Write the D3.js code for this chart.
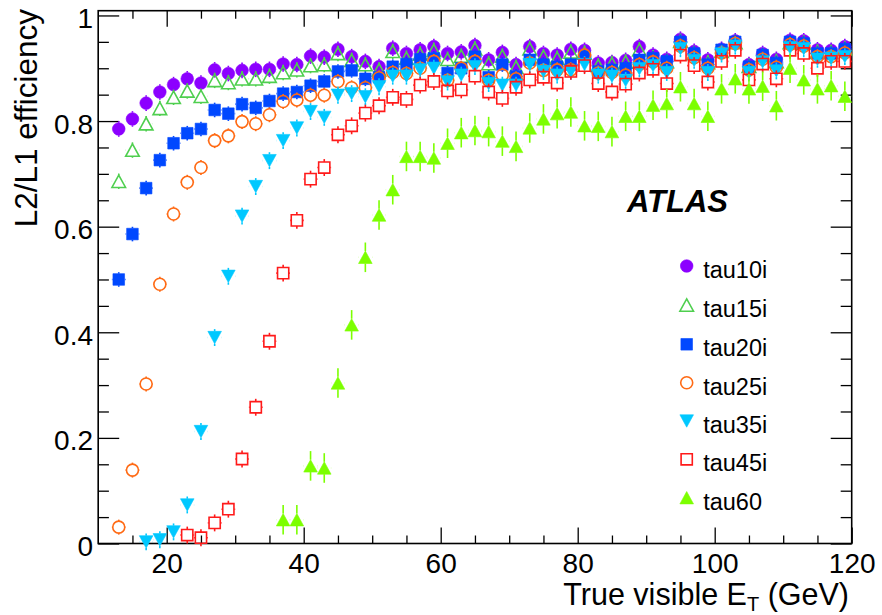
<!DOCTYPE html>
<html><head><meta charset="utf-8">
<script src="https://cdn.jsdelivr.net/npm/d3@7/dist/d3.min.js"></script>
<style>body{margin:0;background:#fff}svg{display:block}</style>
</head><body><svg id="c" width="882" height="615"></svg>
<script>
// ---- data ----
const binCenters = [13,15,17,19,21,23,25,27,29,31,33,35,37,39,41,43,45,47,49,51,53,55,57,59,61,63,65,67,69,71,73,75,77,79,81,83,85,87,89,91,93,95,97,99,101,103,105,107,109,111,113,115,117,119];
const tau10i = [0.785,0.804,0.834,0.855,0.869,0.880,0.872,0.897,0.890,0.896,0.898,0.898,0.908,0.907,0.923,0.921,0.936,
  0.922,0.913,0.903,0.938,0.928,0.935,0.941,0.928,0.931,0.943,0.916,0.930,0.907,0.941,0.928,0.925,0.936,0.934,0.910,
  0.911,0.915,0.941,0.925,0.917,0.955,0.932,0.916,0.936,0.952,0.907,0.928,0.917,0.953,0.952,0.935,0.934,0.941];
const tau15i = [0.686,0.745,0.795,0.824,0.845,0.857,0.847,0.877,0.873,0.880,0.880,0.885,0.892,0.897,0.905,0.907,0.928,
  0.915,0.907,0.897,0.932,0.919,0.927,0.934,0.917,0.923,0.937,0.909,0.923,0.902,0.937,0.922,0.919,0.931,0.929,0.905,
  0.909,0.912,0.935,0.920,0.913,0.951,0.928,0.911,0.932,0.949,0.904,0.924,0.913,0.949,0.948,0.931,0.930,0.937];
const tau20i = [0.500,0.586,0.673,0.726,0.758,0.777,0.785,0.821,0.814,0.832,0.825,0.838,0.852,0.855,0.867,0.875,0.894,
  0.896,0.880,0.883,0.903,0.908,0.917,0.919,0.891,0.900,0.922,0.883,0.907,0.885,0.916,0.907,0.903,0.907,0.922,0.894,
  0.897,0.900,0.916,0.919,0.913,0.950,0.928,0.907,0.935,0.950,0.903,0.925,0.910,0.950,0.947,0.928,0.928,0.936];
const tau25i = [0.031,0.139,0.302,0.491,0.624,0.684,0.712,0.763,0.772,0.799,0.795,0.812,0.837,0.840,0.849,0.849,0.875,
  0.863,0.863,0.882,0.892,0.890,0.900,0.913,0.877,0.900,0.913,0.877,0.887,0.880,0.910,0.896,0.897,0.897,0.925,0.891,
  0.892,0.887,0.907,0.912,0.900,0.942,0.920,0.900,0.929,0.947,0.897,0.917,0.902,0.945,0.942,0.922,0.922,0.929];
const tau35i = [null,null,0.003,0.007,0.022,0.073,0.212,0.390,0.506,0.620,0.676,0.725,0.763,0.787,0.818,0.807,0.849,
  0.852,0.846,0.865,0.885,0.885,0.897,0.900,0.874,0.887,0.903,0.871,0.868,0.868,0.907,0.894,0.887,0.894,0.907,0.887,
  0.885,0.877,0.899,0.905,0.892,0.937,0.915,0.892,0.927,0.942,0.892,0.912,0.895,0.939,0.937,0.917,0.919,0.922];
const tau45i = [null,null,null,null,null,0.016,0.011,0.039,0.065,0.160,0.258,0.383,0.512,0.612,0.690,0.712,0.774,
  0.791,0.815,0.829,0.845,0.841,0.868,0.875,0.857,0.859,0.885,0.855,0.843,0.864,0.878,0.883,0.872,0.894,0.905,0.871,
  0.855,0.870,0.891,0.898,0.871,0.925,0.905,0.874,0.913,0.934,0.878,0.908,0.880,0.934,0.928,0.900,0.913,0.913];
const tau60 = [null,null,null,null,null,null,null,null,null,null,null,null,0.045,0.045,0.147,0.143,0.304,
  0.414,0.542,0.622,0.670,0.733,0.733,0.730,0.758,0.778,0.782,0.780,0.762,0.752,0.787,0.804,0.814,0.817,0.791,0.790,
  0.780,0.809,0.809,0.830,0.833,0.865,0.833,0.809,0.861,0.880,0.861,0.866,0.829,0.900,0.878,0.861,0.867,0.847];
const seriesNames = ["tau10i","tau15i","tau20i","tau25i","tau35i","tau45i","tau60"];
const seriesValues = [tau10i, tau15i, tau20i, tau25i, tau35i, tau45i, tau60];
const seriesErrors = [0.006, 0.008, 0.010, 0.012, 0.016, 0.016, 0.028];
const xTickLabels = [20, 40, 60, 80, 100, 120];
const yTickLabels = [0, 0.2, 0.4, 0.6, 0.8, 1];

// ---- styles ----
const colors = ["#8c00ff","#4fcf4f","#0048ff","#ff6a14","#00c8ff","#ff1a1a","#7cff00"];
const shapes = ["circleF","triUpO","squareF","circleO","triDownF","squareO","triUpF"];
const halfSize = {circleF:6.3, circleO:6.0, triUpO:6.2, triUpF:6.2, triDownF:6.2, squareF:5.8, squareO:5.6};

const svg = d3.select("#c");
const x = d3.scaleLinear().domain([10, 120]).range([98.2, 851.7]);
const y = d3.scaleLinear().domain([0, 1.009]).range([543.5, 10.7]);
const FONT = "'Liberation Sans', Arial, Helvetica, sans-serif";

function shapePath(s) {
  const h = halfSize[s];
  if (s.startsWith("circle")) return d3.symbol(d3.symbolCircle, Math.PI*h*h)();
  if (s.startsWith("square")) return `M${-h},${-h}H${h}V${h}H${-h}Z`;
  if (s === "triDownF") return `M0,${h}L${h+0.6},${-h}L${-h-0.6},${-h}Z`;
  return `M0,${-h}L${h+0.6},${h}L${-h-0.6},${h}Z`;
}
function drawMarker(g, s, c) {
  const filled = s.endsWith("F");
  g.append("path").attr("d", shapePath(s))
    .attr("fill", filled ? c : "none")
    .attr("stroke", c).attr("stroke-width", filled ? 0.6 : 1.6);
}

// ---- frame & axes ----
const majorX = xTickLabels, minorX = d3.range(15, 120, 5).filter(v => v % 20 !== 0);
const majorY = yTickLabels, minorY = d3.range(0.05, 1.0001, 0.05).filter(v => Math.abs(v*5 - Math.round(v*5)) > 1e-6);

svg.append("g").attr("transform", `translate(0,543.5)`)
  .call(d3.axisBottom(x).tickValues(majorX).tickSize(-16).tickPadding(9.6).tickFormat(d3.format("d")));
svg.append("g").attr("transform", `translate(0,543.5)`)
  .call(d3.axisBottom(x).tickValues(minorX).tickSize(-8).tickFormat(""));
svg.append("g").attr("transform", `translate(0,10.7)`)
  .call(d3.axisTop(x).tickValues(majorX).tickSize(-16).tickFormat(""));
svg.append("g").attr("transform", `translate(0,10.7)`)
  .call(d3.axisTop(x).tickValues(minorX).tickSize(-8).tickFormat(""));
const axL = svg.append("g").attr("transform", `translate(98.2,0)`)
  .call(d3.axisLeft(y).tickValues(majorY).tickSize(-21).tickPadding(5.2).tickFormat(d => d === 0 ? "0" : d === 1 ? "1" : d3.format(".1f")(d)));
svg.append("g").attr("transform", `translate(98.2,0)`)
  .call(d3.axisLeft(y).tickValues(minorY).tickSize(-10.7).tickFormat(""));
svg.append("g").attr("transform", `translate(851.7,0)`)
  .call(d3.axisRight(y).tickValues(majorY).tickSize(-21).tickFormat(""));
svg.append("g").attr("transform", `translate(851.7,0)`)
  .call(d3.axisRight(y).tickValues(minorY).tickSize(-11).tickFormat(""));

svg.selectAll(".domain").remove();
svg.selectAll(".tick line").attr("stroke", "#000").attr("stroke-width", 1.3);
svg.selectAll(".tick text").attr("fill", "#000").style("font-family", FONT).style("font-size", "28px");
axL.selectAll(".tick text").attr("dy", "0.43em");

svg.append("rect").attr("x", 98.2).attr("y", 10.7).attr("width", 851.7-98.2).attr("height", 543.5-10.7)
  .attr("fill", "none").attr("stroke", "#000").attr("stroke-width", 1.6);

// ---- axis titles ----
const xt = svg.append("text").attr("x", 849).attr("y", 605).attr("text-anchor", "end")
  .style("font-family", FONT).style("font-size", "30.5px").attr("fill", "#000");
xt.append("tspan").text("True visible E");
xt.append("tspan").attr("dy", 6).style("font-size", "20px").text("T");
xt.append("tspan").attr("dy", -6).text(" (GeV)");

svg.append("text").attr("transform", "translate(37,9) rotate(-90)").attr("text-anchor", "end")
  .style("font-family", FONT).style("font-size", "31.5px").attr("fill", "#000").text("L2/L1 efficiency");

// ---- data points ----
const halfBin = x(12) - x(11);
const plot = svg.append("g");
seriesValues.forEach((vals, si) => {
  const c = colors[si], s = shapes[si], h = halfSize[s];
  const pts = binCenters.map((b, i) => ({b, v: vals[i]})).filter(d => d.v !== null);
  const g = plot.append("g");
  pts.forEach(d => {
    const px = x(d.b), py = y(d.v);
    const ePx = Math.max(y(0) - y(seriesErrors[si]), h + 1.5);
    const pg = g.append("g").attr("transform", `translate(${px},${py})`);
    const ln = [[0, -ePx, 0, -h], [0, h, 0, ePx], [-halfBin, 0, -h - 0.5, 0], [h + 0.5, 0, halfBin, 0]];
    ln.forEach(l => pg.append("line").attr("x1", l[0]).attr("y1", l[1]).attr("x2", l[2]).attr("y2", l[3])
      .attr("stroke", c).attr("stroke-width", 1.6));
    drawMarker(pg, s, c);
  });
});

// ---- ATLAS label ----
svg.append("text").attr("x", 627).attr("y", 212).style("font-family", FONT)
  .style("font-size", "31px").style("font-weight", "bold").style("font-style", "italic")
  .attr("fill", "#000").text("ATLAS");

// ---- legend ----
const legendY = [266, 305, 344.3, 382.7, 421, 459.3, 497.7];
seriesNames.forEach((n, i) => {
  const g = svg.append("g").attr("transform", `translate(686.7,${legendY[i]})`);
  drawMarker(g, shapes[i], colors[i]);
  g.append("text").attr("x", 16.5).attr("y", 12).style("font-family", FONT).style("font-size", "23.5px")
    .attr("fill", "#000").text(n);
});
</script>
</body></html>
